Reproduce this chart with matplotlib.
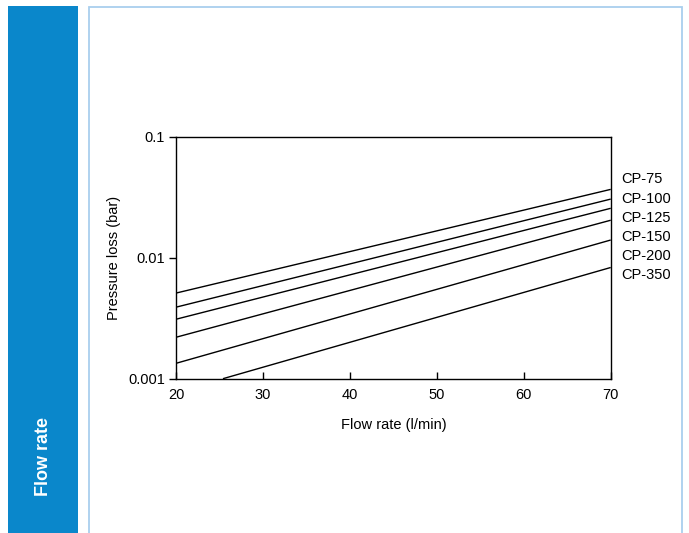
import numpy as np
import matplotlib
matplotlib.use("Agg")
from matplotlib import pyplot as plt
from matplotlib.patches import Rectangle

# data (straight lines on log-y)
models = ['CP-75', 'CP-100', 'CP-125', 'CP-150', 'CP-200', 'CP-350']
x_start = [20, 20, 20, 20, 20, 25.4]
x_end = [70, 70, 70, 70, 70, 70]
p_start = [0.0051, 0.0039, 0.0031, 0.0022, 0.00134, 0.001]
p_end = [0.0367, 0.0305, 0.0256, 0.0204, 0.0140, 0.0083]

x_ticks = [20, 30, 40, 50, 60, 70]
y_ticks = [0.001, 0.01, 0.1]
y_ticklabels = ['0.001', '0.01', '0.1']

plt.rcParams['font.family'] = ['Liberation Sans', 'DejaVu Sans']

fig = plt.figure(figsize=(6.89, 5.33), dpi=100)

# blue side tab + light blue panel frame
fig.add_artist(Rectangle((8/689, 0), 70/689, 1 - 6/533, transform=fig.transFigure,
                         facecolor='#0a87cb', edgecolor='none'))
fig.add_artist(Rectangle((89/689, -0.05), (682-89)/689, 1.05 - 6.5/533,
                         transform=fig.transFigure, facecolor='none',
                         edgecolor='#a9cfee', linewidth=1.3))
fig.text(43/689, 1 - 456/533, 'Flow rate', rotation=90, color='white',
         fontsize=13, fontweight='bold', ha='center', va='center')

ax = fig.add_axes([176/689, 1 - 378.7/533, (610.7-176)/689, (378.7-136.7)/533])
for xs, xe, ps, pe in zip(x_start, x_end, p_start, p_end):
    ax.plot([xs, xe], [ps, pe], color='black', linewidth=1.0, solid_capstyle='butt')

ax.set_yscale('log')
ax.set_xlim(20, 70)
ax.set_ylim(0.001, 0.1)
ax.set_xticks(x_ticks)
ax.set_yticks(y_ticks)
ax.set_yticklabels(y_ticklabels)
ax.minorticks_off()
ax.tick_params(axis='x', direction='in', length=5, width=1, labelsize=10.5, pad=7)
ax.tick_params(axis='y', direction='out', length=5, width=1, labelsize=10.5, pad=3)
for s in ax.spines.values():
    s.set_linewidth(1.0)

ax.set_xlabel('Flow rate (l/min)', fontsize=10.5, labelpad=11)
ax.set_ylabel('Pressure loss (bar)', fontsize=10.5, labelpad=5)

for i, name in enumerate(models):
    ax.text(1.025, 0.824 - i*0.0795, name, transform=ax.transAxes,
            fontsize=10.5, ha='left', va='center')

fig.savefig('out.png', dpi=100)
